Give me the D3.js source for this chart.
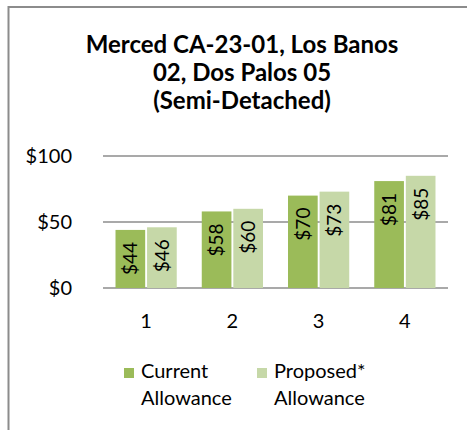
<!DOCTYPE html>
<html>
<head>
<meta charset="utf-8">
<script src="https://cdn.jsdelivr.net/npm/d3@7"></script>
<style>
  body { margin: 0; background: #fff; }
  svg { display: block; font-family: Lato, "Noto Sans", sans-serif; }
</style>
</head>
<body>
<svg id="svg" width="467" height="430"></svg>
<script>
var titleLines = ['Merced CA-23-01, Los Banos', '02, Dos Palos 05', '(Semi-Detached)'];
var categories = ['1', '2', '3', '4'];
var seriesNames = ['Current Allowance', 'Proposed* Allowance'];
var currentValues = [44, 58, 70, 81];
var proposedValues = [46, 60, 73, 85];
var yTicks = [0, 50, 100];
var colors = ['#9bbb59', '#c6d8a8'];

var svg = d3.select('svg');

// chart frame (right and bottom edges are cut off in the original)
svg.append('path')
  .attr('d', 'M8.5,440 V7 H480')
  .attr('fill', 'none')
  .attr('stroke', '#8c8c8c')
  .attr('stroke-width', 2);

svg.append('text')
  .attr('x', 242)
  .attr('y', 53)
  .attr('text-anchor', 'middle')
  .attr('font-weight', 'bold')
  .attr('font-size', 24)
  .selectAll('tspan')
  .data(titleLines)
  .enter().append('tspan')
  .attr('x', 242)
  .attr('dy', function (d, i) { return i === 0 ? 0 : 28; })
  .text(function (d) { return d; });

var x = d3.scaleBand().domain(categories).range([103, 448]).paddingInner(0.29).paddingOuter(0.145);
var xs = d3.scaleBand().domain([0, 1]).range([0, x.bandwidth()]).paddingInner(0.06);
var y = d3.scaleLinear().domain([0, 100]).range([288, 156]);

// gridlines
svg.append('g').selectAll('line')
  .data(yTicks)
  .enter().append('line')
  .attr('x1', 103).attr('x2', 448)
  .attr('y1', function (d) { return y(d); })
  .attr('y2', function (d) { return y(d); })
  .attr('stroke', '#8c8c8c')
  .attr('stroke-width', 1.5);

var yAxis = svg.append('g')
  .attr('transform', 'translate(72,0)')
  .call(d3.axisLeft(y).tickValues(yTicks).tickSize(0).tickPadding(0).tickFormat(function (d) { return '$' + d; }));
yAxis.select('.domain').remove();
yAxis.selectAll('text').attr('font-size', 20).attr('font-family', 'Lato').attr('fill', '#000');

var xAxis = svg.append('g')
  .attr('transform', 'translate(0,288)')
  .call(d3.axisBottom(x).tickSize(0).tickPadding(26));
xAxis.select('.domain').remove();
xAxis.selectAll('text').attr('font-size', 20).attr('font-family', 'Lato').attr('fill', '#000');

var rows = categories.map(function (c, i) {
  return { cat: c, values: [currentValues[i], proposedValues[i]] };
});

var groups = svg.append('g').selectAll('g')
  .data(rows)
  .enter().append('g')
  .attr('transform', function (d) { return 'translate(' + x(d.cat) + ',0)'; });

var cells = groups.selectAll('g')
  .data(function (d) { return d.values.map(function (v, j) { return { v: v, j: j }; }); })
  .enter().append('g');

cells.append('rect')
  .attr('x', function (d) { return xs(d.j); })
  .attr('width', xs.bandwidth())
  .attr('y', function (d) { return y(d.v); })
  .attr('height', function (d) { return y(0) - y(d.v); })
  .attr('fill', function (d) { return colors[d.j]; });

cells.append('text')
  .attr('transform', function (d) {
    return 'translate(' + (xs(d.j) + xs.bandwidth() / 2) + ',' + (y(d.v) + 12) + ') rotate(-90)';
  })
  .attr('text-anchor', 'end')
  .attr('dy', '0.36em')
  .attr('font-size', 19)
  .attr('fill', '#000')
  .text(function (d) { return '$' + d.v; });

// legend
var legend = svg.append('g').selectAll('g')
  .data(seriesNames)
  .enter().append('g')
  .attr('transform', function (d, i) { return 'translate(' + (124 + i * 133) + ',368)'; });

legend.append('rect')
  .attr('width', 10).attr('height', 10)
  .attr('fill', function (d, i) { return colors[i]; });

legend.append('text')
  .attr('font-size', 20)
  .attr('fill', '#000')
  .selectAll('tspan')
  .data(function (d) { return d.split(' '); })
  .enter().append('tspan')
  .attr('x', 17)
  .attr('y', function (d, i) { return 10 + i * 27; })
  .text(function (d) { return d; });
</script>
</body>
</html>
